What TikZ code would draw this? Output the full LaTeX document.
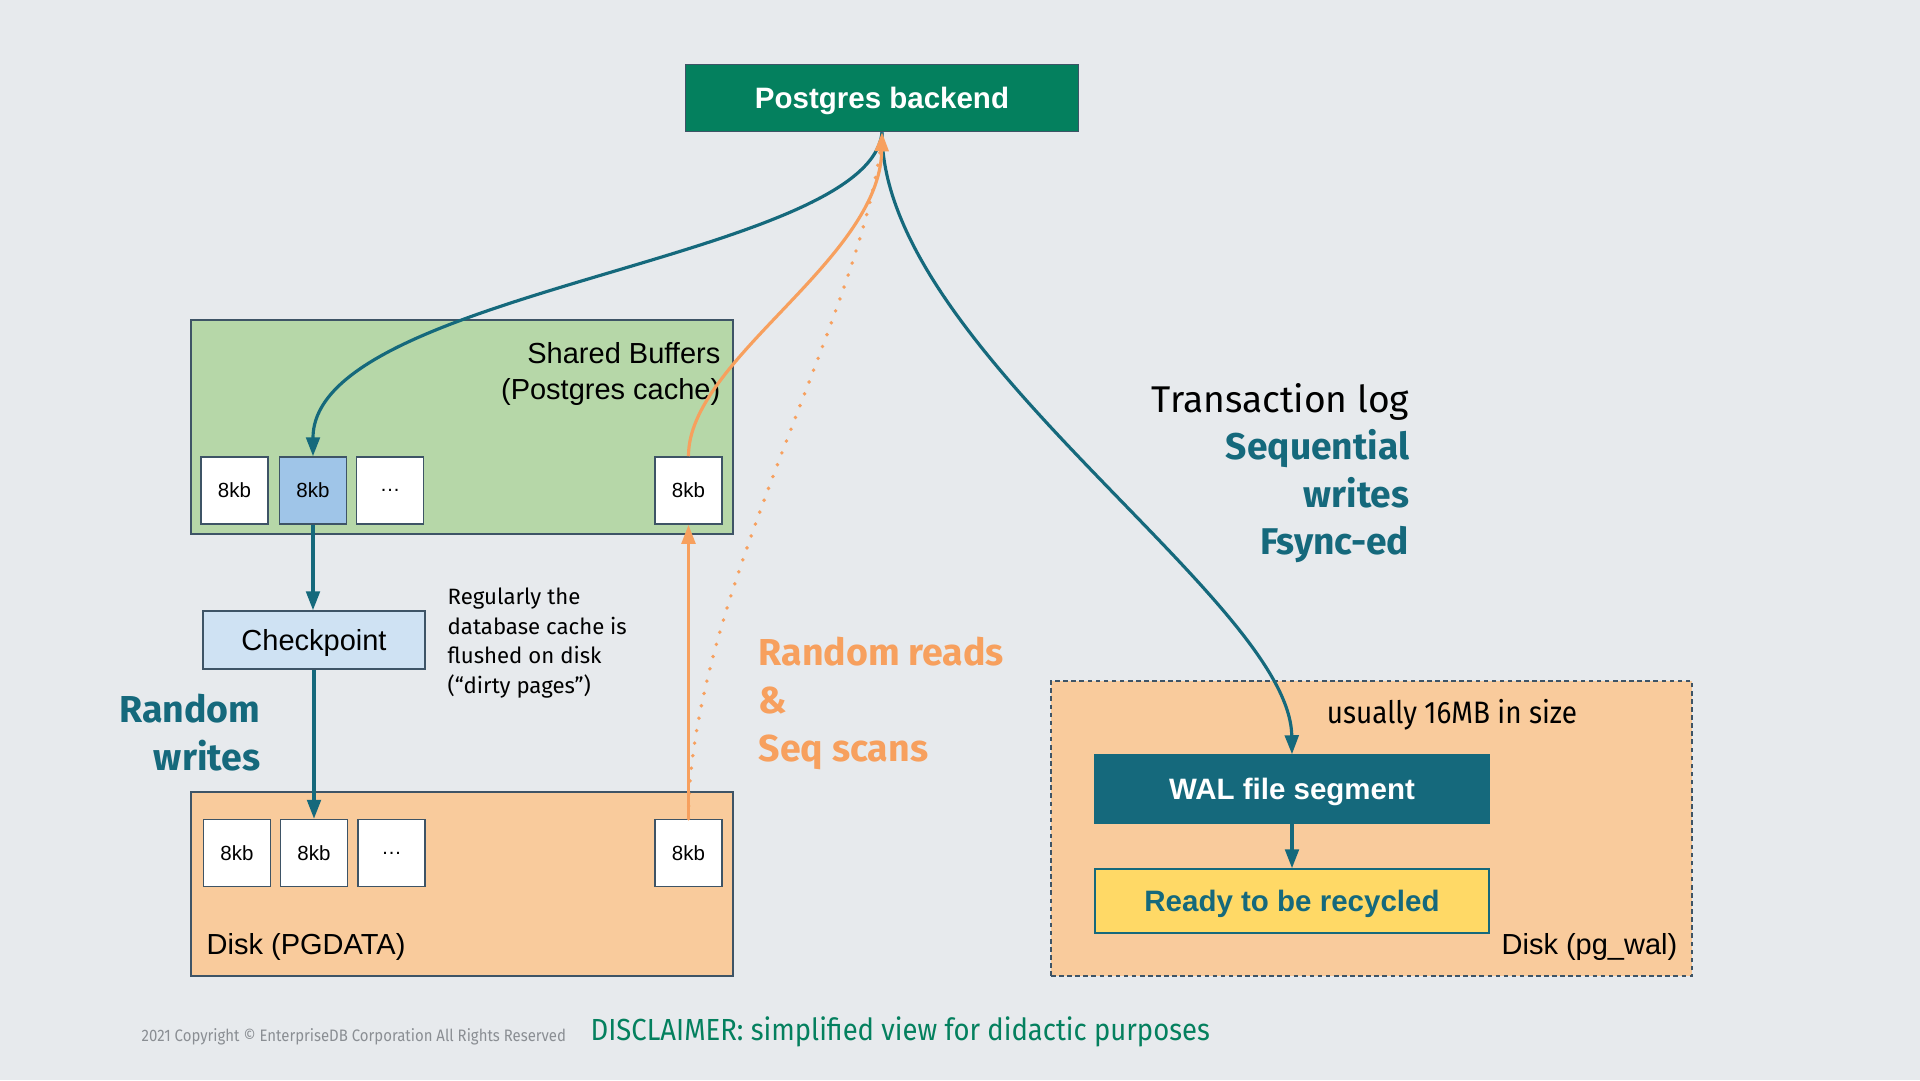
\documentclass[tikz,border=0pt]{standalone}
\usepackage{fontspec}
\setmainfont{Liberation Sans}
\newfontfamily\fira{Fira Sans}
\newfontfamily\firacond[FakeStretch=0.9]{Fira Sans}
\usepackage{xcolor}
\usepackage{tikz}
\usetikzlibrary{arrows.meta}
\definecolor{bgcol}{HTML}{E7EAED}
\definecolor{pggreen}{HTML}{04805E}
\definecolor{boxline}{HTML}{3E5466}
\definecolor{bufgreen}{HTML}{B6D7A8}
\definecolor{diskorange}{HTML}{F9CB9C}
\definecolor{pageblue}{HTML}{9FC5E8}
\definecolor{ckptblue}{HTML}{CFE2F3}
\definecolor{walteal}{HTML}{15697C}
\definecolor{readorange}{HTML}{F7A05E}
\definecolor{recycleyellow}{HTML}{FFD966}
\definecolor{notegrey}{HTML}{8A8E93}
\newcommand{\pxfont}[2]{\fontsize{#1mm}{#2mm}\selectfont}
\newcommand{\tealbold}[1]{\textcolor{walteal}{\bfseries #1}}
\tikzset{
  areabox/.style={draw=boxline,line width=0.45pt,inner sep=0pt},
  pagebox/.style={draw=boxline,line width=0.45pt,minimum width=6.7mm,minimum height=6.7mm,
    inner sep=0pt,font=\pxfont{2.05}{2.5}},
  titlebox/.style={areabox,text depth=0pt,font=\pxfont{2.95}{3.5}\bfseries},
  boxlabel/.style={inner sep=0pt,font=\pxfont{2.9}{3.55}},
  notetext/.style={inner sep=0pt,align=left,font=\fira\pxfont{2.22}{2.94}},
  bigtext/.style={inner sep=0pt,font=\fira\bfseries\pxfont{3.75}{4.8}},
  tealarrow/.style={draw=walteal,line width=0.9pt,-{Triangle[length=5.4pt,width=3.9pt]}},
  orangearrow/.style={draw=readorange,line width=0.9pt,-{Triangle[length=5.4pt,width=3.9pt]}},
  orangedots/.style={draw=readorange,line width=1.1pt,line cap=round,dash pattern=on 0pt off 3.6pt}
}
\begin{document}
\begin{tikzpicture}[x=0.1mm,y=-0.1mm]
  \useasboundingbox (0,0) rectangle (1920,1080);
  \fill[bgcol] (0,0) rectangle (1920,1080);

  % boxes
  \node[titlebox,fill=pggreen,text=white,minimum width=39.3mm,minimum height=6.7mm] (backend) at (882,98) {Postgres backend};
  \node[areabox,fill=bufgreen,minimum width=54.2mm,minimum height=21.4mm] (shared) at (462,427) {};
  \node[areabox,fill=diskorange,minimum width=54.2mm,minimum height=18.4mm] (pgdata) at (462,884) {};
  \node[areabox,fill=diskorange,dash pattern=on 1.3pt off 1pt,minimum width=64.1mm,minimum height=29.5mm] (waldisk) at (1371.5,828.5) {};
  \node[areabox,fill=ckptblue,text depth=0pt,font=\pxfont{2.9}{3.5},minimum width=22.2mm,minimum height=5.8mm] (checkpoint) at (314,640) {Checkpoint};
  \node[titlebox,draw=walteal,fill=walteal,text=white,minimum width=39.4mm,minimum height=6.8mm] (walseg) at (1292,789) {WAL file segment};
  \node[titlebox,draw=walteal,fill=recycleyellow,text=walteal,minimum width=39.4mm,minimum height=6.4mm] (ready) at (1292,901) {Ready to be recycled};

  % 8kb pages
  \foreach \name/\xpos/\txt/\col in {c1/234.5/8kb/white,c2/313/8kb/pageblue,c3/390/\dots/white,c4/688.5/8kb/white}
    \node[pagebox,fill=\col] (\name) at (\xpos,490.5) {\txt};
  \foreach \name/\xpos/\txt in {d1/237/8kb,d2/314/8kb,d3/391.5/\dots,d4/688.5/8kb}
    \node[pagebox,fill=white] (\name) at (\xpos,853) {\txt};

  % labels
  \node[boxlabel,anchor=east,align=right] (sharedlabel) at (721,374) {Shared Buffers\\(Postgres cache)};
  \node[boxlabel,anchor=west] (pgdatalabel) at (206,947) {Disk (PGDATA)};
  \node[boxlabel,anchor=east] (wallabel) at (1678,947) {Disk (pg\_wal)};
  \node[notetext,anchor=west] (flushnote) at (447,643) {Regularly the\\database cache is\\flushed on disk\\(“dirty pages”)};
  \node[bigtext,text=walteal,anchor=east,align=right] (randwrites) at (261,733) {Random\\writes};
  \node[bigtext,text=readorange,anchor=west,align=left] (randreads) at (758,703) {Random reads\\\&\\Seq scans};
  \node[inner sep=0pt,anchor=east,align=right,font=\fira\pxfont{3.72}{4.75}] (txlog) at (1410,473)
    {Transaction log\\\tealbold{Sequential}\\\tealbold{writes}\\\tealbold{Fsync-ed}};
  \node[inner sep=0pt,font=\firacond\pxfont{3.1}{3.6}] (walsize) at (1452,715) {usually 16MB in size};
  \node[inner sep=0pt,anchor=west,text=notegrey,font=\firacond\pxfont{1.66}{2}] (copyright) at (141,1037)
    {2021 Copyright © EnterpriseDB Corporation All Rights Reserved};
  \node[inner sep=0pt,anchor=west,text=pggreen,font=\firacond\pxfont{3.05}{3.5}] (disclaimer) at (590,1032)
    {DISCLAIMER: simplified view for didactic purposes};

  % connectors
  \draw[tealarrow] (backend.south) .. controls (870,260) and (313,290) .. (c2.north);
  \draw[tealarrow] (backend.south) .. controls (882,350) and (1290,600) .. (walseg.north);
  \draw[tealarrow] (c2.south) -- (c2.south |- checkpoint.north);
  \draw[tealarrow] (checkpoint.south) -- (d2.north);
  \draw[tealarrow] (walseg.south) -- (ready.north);
  \draw[orangedots] (d4.north) .. controls (688,600) and (870,300) .. (backend.south);
  \draw[orangearrow] (d4.north) -- (c4.south);
  \draw[orangearrow] (c4.north) .. controls (688,360) and (880,260) .. (backend.south);
\end{tikzpicture}
\end{document}
